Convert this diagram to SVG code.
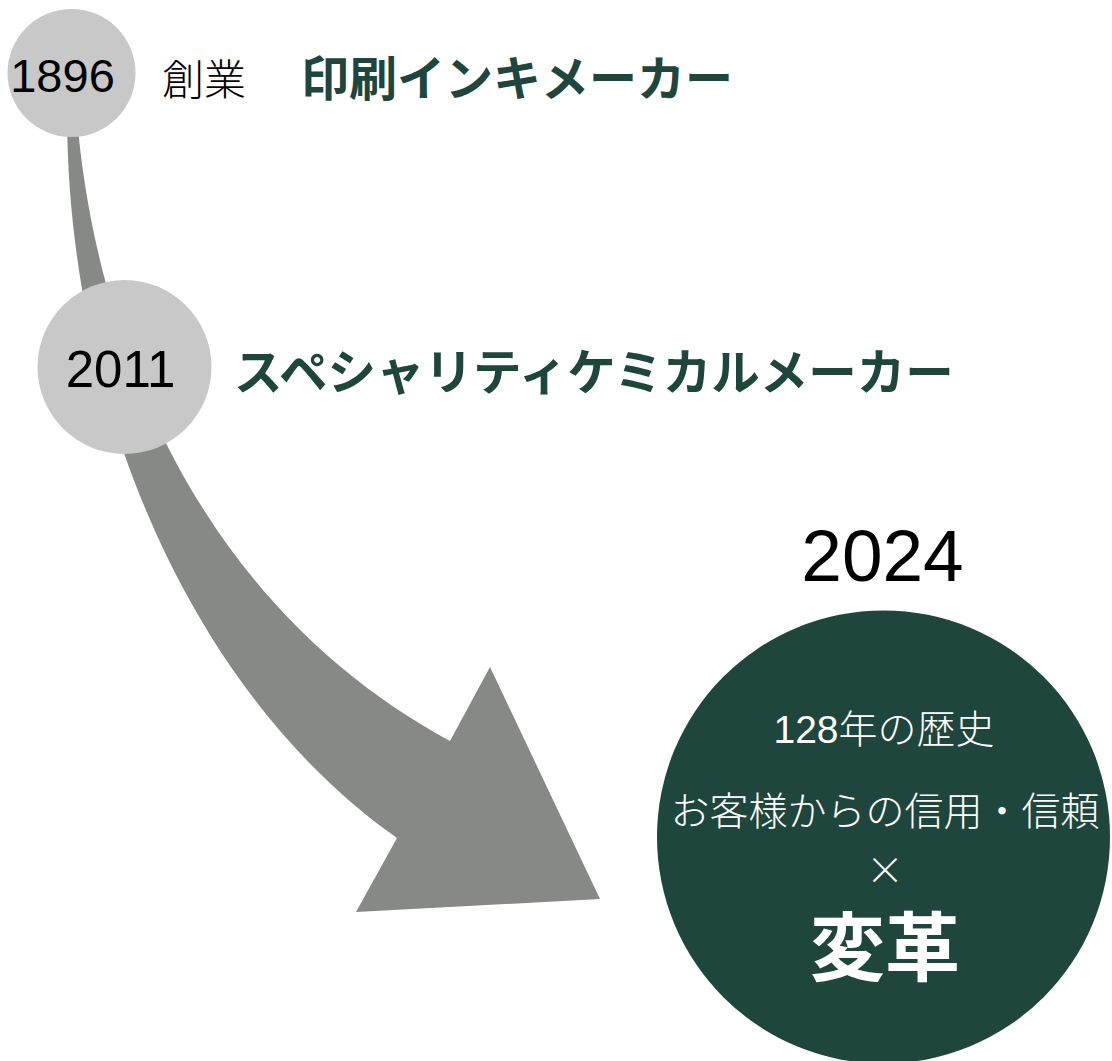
<svg xmlns="http://www.w3.org/2000/svg" width="1112" height="1061" viewBox="0 0 1112 1061">
<style>
.lat{font-family:"Liberation Sans","Noto Sans CJK JP",sans-serif;}
.cjk{font-family:"Noto Sans CJK JP",sans-serif;}
.yr{fill:#000;text-anchor:middle;}
.grey{fill:#c8c8c8;}
.hl{fill:#1e463c;font-weight:bold;}
.wt{fill:#fff;text-anchor:middle;}
</style>
<rect width="1112" height="1061" fill="#fff"/>
<g id="connectors">
<path d="M67,118 C69,420 200,700 397,838 L356,912 L600,899 L490,667 L450,741 C190,600 95,330 77,118 Z" fill="#878986"/>
</g>
<g id="node-1896">
<circle class="grey" cx="71.5" cy="73" r="64"/>
<text class="lat yr" x="62.5" y="92" font-size="47">1896</text>
<text class="lat" x="162" y="95" font-size="42" font-weight="300" fill="#000">創業</text>
<text class="lat hl" x="301" y="96" font-size="48">印刷インキメーカー</text>
</g>
<g id="node-2011">
<circle class="grey" cx="124.5" cy="367" r="87"/>
<text class="lat yr" x="120.5" y="387" font-size="51">2011</text>
<text class="lat hl" x="234" y="390" font-size="48.5">スペシャリティケミカルメーカー</text>
</g>
<g id="node-2024">
<text class="lat yr" x="882.5" y="581" font-size="73">2024</text>
<circle cx="883.5" cy="837" r="226.5" fill="#1e463c"/>
<text class="lat wt" x="884" y="743" font-size="39" font-weight="300">128年の歴史</text>
<text class="lat wt" x="885" y="825" font-size="39" font-weight="300">お客様からの信用・信頼</text>
<text class="cjk wt" x="885" y="883.5" font-size="38" font-weight="300">×</text>
<text class="lat wt" x="885" y="975" font-size="75" font-weight="bold">変革</text>
</g>
</svg>
